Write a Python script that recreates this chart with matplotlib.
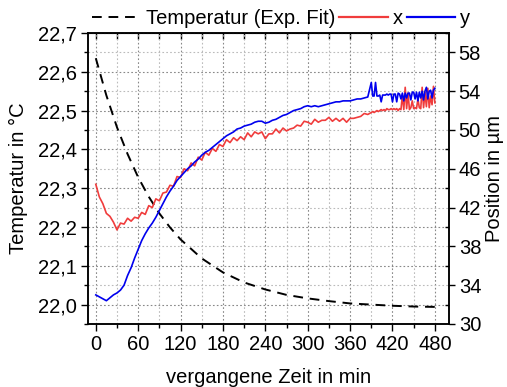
import matplotlib
matplotlib.use("Agg")
import matplotlib.pyplot as plt
from matplotlib.ticker import MultipleLocator, FuncFormatter
from matplotlib.lines import Line2D

plt.rcParams['font.family'] = ['Liberation Sans', 'DejaVu Sans']

# temperature fit, read at every 15/30 min
t_temp = [0, 15, 30, 45, 60, 75, 90, 105, 120, 150, 180, 210, 240, 270,
          300, 330, 360, 390, 420, 450, 480]
temp = [22.635, 22.539, 22.457, 22.388, 22.328, 22.278, 22.235, 22.199,
        22.168, 22.119, 22.083, 22.057, 22.039, 22.025, 22.016, 22.009,
        22.003, 22.000, 21.997, 21.995, 21.994]

# position samples: every 5 min up to 385, every 2 min afterwards
t_pos = list(range(0, 390, 5)) + list(range(390, 481, 2))

pos_x = [44.4, 43.1, 42.4, 41.4, 41.1, 40.5, 39.7, 40.4, 40.3, 40.9,
         40.6, 41.0, 40.9, 41.5, 41.3, 42.2, 42.0, 42.9, 42.7, 43.5,
         43.6, 44.3, 44.2, 45.2, 45.1, 46.0, 45.8, 46.6, 46.3, 47.2,
         46.9, 47.7, 47.4, 48.1, 47.8, 48.5, 48.3, 49.0, 48.7, 49.2,
         48.9, 49.3, 49.0, 49.7, 49.3, 49.8, 49.6, 49.8, 49.1, 49.6,
         49.6, 50.1, 49.7, 50.2, 49.9, 50.1, 50.2, 50.5, 50.4, 50.9,
         50.8, 50.6, 51.1, 50.8, 51.0, 51.0, 51.3, 50.9, 51.2, 50.9,
         51.2, 50.8, 51.2, 51.2, 51.3, 51.4, 51.7, 51.6,
         # 390 .. 480 step 2
         51.8, 51.9, 51.8, 51.9, 52.0, 51.9, 52.0, 52.1, 52.0, 52.1,
         52.0, 52.2, 52.1, 52.1, 52.2, 52.1, 52.2, 52.1, 52.2, 52.0,
         52.2, 52.1, 53.6, 52.1, 54.4, 52.2, 53.8, 52.1, 52.3, 53.0,
         52.2, 52.3, 52.2, 53.2, 52.3, 52.2, 54.4, 52.3, 53.9, 52.4,
         54.3, 52.3, 53.5, 52.6, 54.5, 52.8]

pos_y = [33.0, 32.8, 32.6, 32.4, 32.7, 33.0, 33.2, 33.5, 34.0, 35.0,
         35.8, 36.8, 37.7, 38.6, 39.3, 39.9, 40.4, 41.0, 41.7, 42.4,
         43.1, 43.7, 44.2, 44.8, 45.2, 45.6, 46.0, 46.3, 46.7, 47.0,
         47.4, 47.7, 47.9, 48.2, 48.5, 48.8, 49.1, 49.4, 49.6, 49.8,
         50.1, 50.2, 50.4, 50.5, 50.6, 50.8, 50.9, 50.9, 50.7, 50.8,
         51.0, 51.1, 51.3, 51.5, 51.6, 51.8, 52.0, 52.1, 52.2, 52.4,
         52.5, 52.4, 52.5, 52.4, 52.5, 52.6, 52.7, 52.8, 52.9, 52.9,
         53.0, 53.0, 53.0, 53.1, 53.2, 53.2, 53.3, 53.4,
         # 390 .. 480 step 2
         54.9, 53.5, 53.5, 54.9, 53.5, 53.5, 53.6, 52.9, 53.6, 53.6,
         53.6, 53.7, 53.6, 53.7, 53.7, 52.9, 53.7, 53.7, 52.9, 53.8,
         53.7, 53.2, 53.8, 53.0, 53.8, 53.3, 53.8, 53.8, 53.1, 53.9,
         53.9, 53.2, 53.9, 53.0, 53.9, 53.3, 54.0, 53.1, 54.0, 54.4,
         53.2, 54.0, 54.1, 53.3, 54.1, 54.3]

x_ticks = [0, 60, 120, 180, 240, 300, 360, 420, 480]
pos_ticks = [30, 34, 38, 42, 46, 50, 54, 58]

red = '#f03c3c'
blue = '#0000ee'
fs = 14.5

fig = plt.figure(figsize=(5.07, 3.87), dpi=100)
ax = fig.add_axes([0.1736, 0.1628, 0.712, 0.752])
ax2 = ax.twinx()

ax.plot(t_temp, temp, color='black', linestyle=(0, (5, 3.5)), linewidth=1.4)
ax2.plot(t_pos, pos_x, color=red, linewidth=1.2)
ax2.plot(t_pos, pos_y, color=blue, linewidth=1.2)

ax.set_xlim(-11, 500)
ax.set_ylim(21.95, 22.7)
ax2.set_ylim(30, 60)

ax.set_xticks(x_ticks)
ax.xaxis.set_minor_locator(MultipleLocator(30))
ax.yaxis.set_major_locator(MultipleLocator(0.1))
ax.yaxis.set_minor_locator(MultipleLocator(0.05))
ax.yaxis.set_major_formatter(FuncFormatter(lambda v, p: f'{v:.1f}'.replace('.', ',')))
ax2.set_yticks(pos_ticks)
ax2.yaxis.set_minor_locator(MultipleLocator(2))

ax.grid(True, which='major', color='#888888', linestyle=(0, (1.5, 2)), linewidth=0.8)
ax.grid(True, which='minor', color='#bbbbbb', linestyle=(0, (1.5, 2)), linewidth=0.8)
ax.set_axisbelow(True)

ax.tick_params(which='major', direction='out', length=5, width=1, labelsize=fs, pad=3)
ax.tick_params(which='minor', direction='out', length=3, width=1)
ax2.tick_params(which='major', direction='out', length=4, width=1, labelsize=fs, pad=3)
ax2.tick_params(which='minor', direction='in', length=3, width=1)

top = ax.secondary_xaxis('top')
top.set_xticks(list(range(0, 481, 30)))
top.tick_params(direction='in', length=4, width=1, labeltop=False)

for a in (ax, ax2):
    for s in a.spines.values():
        s.set_linewidth(1.1)

ax.set_xlabel('vergangene Zeit in min', fontsize=fs, labelpad=10)
ax.set_ylabel('Temperatur in °C', fontsize=fs, labelpad=7)
ax2.set_ylabel('Position in µm', fontsize=fs, labelpad=3)

handles = [
    Line2D([], [], color='black', linestyle=(0, (5, 3.5)), linewidth=1.4),
    Line2D([], [], color=red, linewidth=1.6),
    Line2D([], [], color=blue, linewidth=1.6),
]
fig.legend(handles, ['Temperatur (Exp. Fit)', 'x', 'y'], ncol=3, frameon=False,
           loc='center', bbox_to_anchor=(0.555, 0.952), fontsize=fs,
           handlelength=2.4, handletextpad=0.25, columnspacing=0.2,
           borderaxespad=0, borderpad=0)

fig.savefig('out.png', dpi=100)
